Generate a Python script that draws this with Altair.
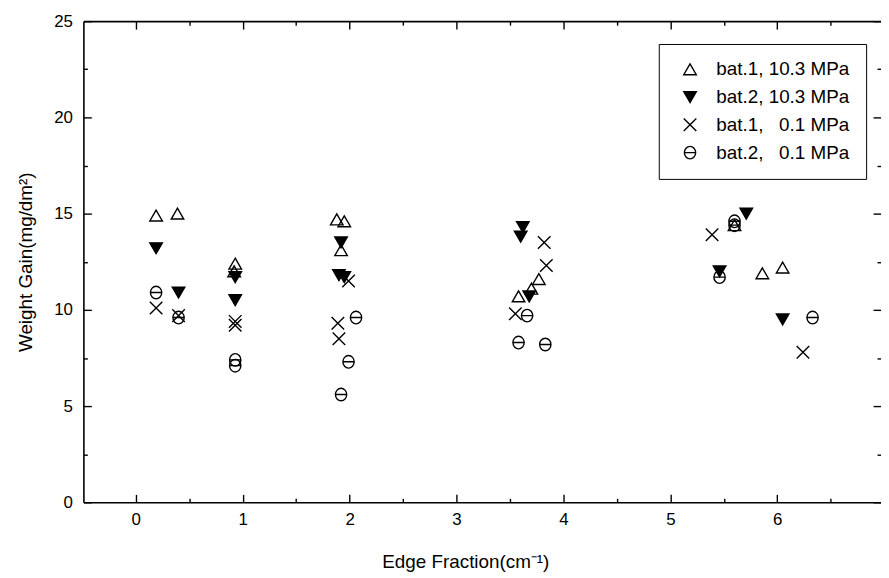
import altair as alt
import pandas as pd

series_names = ["bat.1, 10.3 MPa", "bat.2, 10.3 MPa",
                "bat.1,\u00a0\u00a0\u00a00.1 MPa", "bat.2,\u00a0\u00a0\u00a00.1 MPa"]

s1_x = [0.19, 0.39, 0.93, 0.92, 1.88, 1.95, 1.92, 3.58, 3.70, 3.77, 5.60, 5.86, 6.05]
s1_y = [14.9, 15.0, 12.4, 12.0, 14.7, 14.6, 13.1, 10.7, 11.1, 11.6, 14.4, 11.9, 12.2]
s2_x = [0.19, 0.40, 0.93, 0.93, 1.92, 1.90, 1.95, 3.62, 3.60, 3.68, 5.46, 5.71, 6.05]
s2_y = [13.2, 10.9, 11.7, 10.5, 13.5, 11.8, 11.7, 14.3, 13.8, 10.7, 12.0, 15.0, 9.5]
s3_x = [0.19, 0.40, 0.93, 0.93, 1.89, 1.90, 1.99, 3.55, 3.82, 3.84, 5.39, 6.24]
s3_y = [10.1, 9.7, 9.4, 9.2, 9.3, 8.5, 11.5, 9.8, 13.5, 12.3, 13.9, 7.8]
s4_x = [0.19, 0.40, 0.93, 0.93, 2.06, 1.99, 1.92, 3.66, 3.58, 3.83, 5.46, 5.60, 5.60, 6.33]
s4_y = [10.9, 9.6, 7.4, 7.1, 9.6, 7.3, 5.6, 9.7, 8.3, 8.2, 11.7, 14.6, 14.4, 9.6]

x_labels = [0, 1, 2, 3, 4, 5, 6]
x_ticks = [0, 0.5, 1, 1.5, 2, 2.5, 3, 3.5, 4, 4.5, 5, 5.5, 6, 6.5]
y_labels = [0, 5, 10, 15, 20, 25]
y_ticks = [0, 2.5, 5, 7.5, 10, 12.5, 15, 17.5, 20, 22.5, 25]

rows = []
for name, xs, ys in zip(series_names, [s1_x, s2_x, s3_x, s4_x], [s1_y, s2_y, s3_y, s4_y]):
    for a, b in zip(xs, ys):
        rows.append({"series": name, "x": a, "y": b})
df = pd.DataFrame(rows)

W, H = 804, 485
FONT = "Liberation Sans"

tri_up = "triangle-up"
tri_down = "triangle-down"
cross = "M-1,-1L1,1M-1,1L1,-1"
theta = "M-0.9,0A0.9,1 0 1,0 0.9,0A0.9,1 0 1,0 -0.9,0M-0.9,0L0.9,0"

xscale = alt.Scale(domain=[-0.49, 6.97], nice=False, zero=False)
yscale = alt.Scale(domain=[0, 25], nice=False, zero=False)

legend = alt.Legend(title=None, orient="none", legendX=580, legendY=23,
                    fillColor="white", strokeColor="black", padding=16,
                    symbolOffset=6, labelOffset=17, rowPadding=8,
                    labelFont=FONT, labelFontSize=19, labelColor="black",
                    symbolStrokeWidth=1.4, cornerRadius=0)

points = alt.Chart(df).mark_point(stroke="black", strokeWidth=1.4, opacity=1).encode(
    x=alt.X("x:Q", scale=xscale,
            axis=alt.Axis(orient="bottom", values=x_labels, ticks=False, grid=False,
                          domain=True, domainColor="black", domainWidth=1.6,
                          labelFont=FONT, labelFontSize=17, labelColor="black",
                          labelPadding=9, title="Edge Fraction(cm\u207b\u00b9)",
                          titleFont=FONT, titleFontSize=19, titleFontWeight="normal",
                          titleColor="black", titlePadding=26, titleX=385)),
    y=alt.Y("y:Q", scale=yscale,
            axis=alt.Axis(orient="left", values=y_labels, ticks=False, grid=False,
                          domain=True, domainColor="black", domainWidth=1.6,
                          labelFont=FONT, labelFontSize=17, labelColor="black",
                          labelPadding=11, title="Weight Gain(mg/dm\u00b2)",
                          titleFont=FONT, titleFontSize=19, titleFontWeight="normal",
                          titleColor="black", titlePadding=18)),
    shape=alt.Shape("series:N", scale=alt.Scale(domain=series_names,
                                                 range=[tri_up, tri_down, cross, theta]),
                    legend=legend),
    fill=alt.Fill("series:N", scale=alt.Scale(domain=series_names,
                                               range=["transparent", "black", "transparent", "transparent"]),
                  legend=legend),
    stroke=alt.Stroke("series:N", scale=alt.Scale(domain=series_names,
                                                   range=["black", "black", "black", "black"]),
                      legend=legend),
    size=alt.Size("series:N", scale=alt.Scale(domain=series_names, range=[160, 160, 110, 130]),
                  legend=legend),
)

xt_size = {"condition": {"test": "datum.value % 1 === 0", "value": 8}, "value": 4}
yt_size = {"condition": {"test": "datum.value % 5 === 0", "value": 8}, "value": 4}

def tick_layer(channel, orient, domain):
    base = alt.Chart(df).mark_point(opacity=0)
    if channel == "x":
        ax = alt.Axis(orient=orient, offset=-H, values=x_ticks, labels=False, title=None,
                      grid=False, domain=domain, domainColor="black", domainWidth=1.6,
                      tickColor="black", tickWidth=1.4, tickSize=xt_size)
        return base.encode(x=alt.X("x:Q", scale=xscale, axis=ax),
                           y=alt.Y("y:Q", scale=yscale, axis=None))
    ax = alt.Axis(orient=orient, offset=-W, values=y_ticks, labels=False, title=None,
                  grid=False, domain=domain, domainColor="black", domainWidth=1.6,
                  tickColor="black", tickWidth=1.4, tickSize=yt_size)
    return base.encode(y=alt.Y("y:Q", scale=yscale, axis=ax),
                       x=alt.X("x:Q", scale=xscale, axis=None))

top_frame = tick_layer("x", "bottom", True)   # top edge, ticks pointing down
bottom_ticks = tick_layer("x", "top", False)  # bottom edge, ticks pointing up
left_ticks = tick_layer("y", "right", False)  # left edge, ticks pointing right
right_ticks = tick_layer("y", "left", False)  # right edge, ticks pointing left

chart = alt.layer(points, top_frame, bottom_ticks, left_ticks, right_ticks).resolve_axis(
    x="independent", y="independent"
).properties(
    width=W, height=H,
    padding={"left": 76, "top": 11, "right": 0, "bottom": 70},
    autosize="none", background="white",
).configure_view(stroke=None)

chart.save("out.html", embed_options={"renderer": "svg", "actions": False})
